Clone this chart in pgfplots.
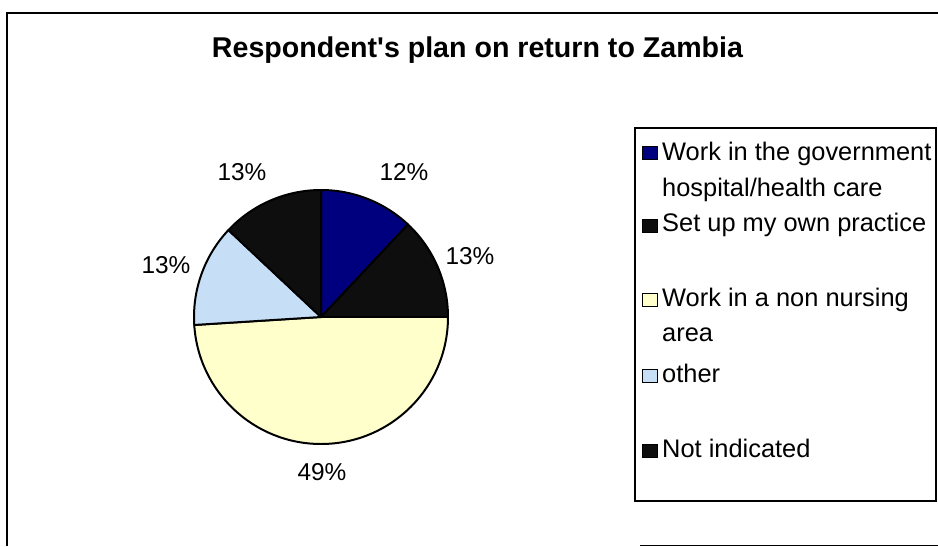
\documentclass[border=0pt]{standalone}
\usepackage{pgfplots}
\pgfplotsset{compat=1.18}
\usepackage{pgfplotstable}
\usepackage{fontspec}
\setmainfont{Liberation Sans}
\definecolor{govblue}{HTML}{00007E}
\definecolor{sliceblack}{HTML}{0E0E0E}
\definecolor{nonnurse}{HTML}{FFFFCC}
\definecolor{otherblue}{HTML}{C6DEF6}
\newcommand{\lblfont}{\fontsize{24.5}{29}\selectfont}
\newcommand{\legfont}{\fontsize{25.5}{30}\selectfont}

% share of respondents (percent), clockwise from 12 o'clock
\pgfplotstableread{
pct col
12 govblue
13 sliceblack
49 nonnurse
13 otherblue
13 sliceblack
}\piedata

\begin{document}
\begin{tikzpicture}
\begin{axis}[
  scale only axis, width=938bp, height=547bp,
  xmin=0, xmax=938, ymin=0, ymax=547, y dir=reverse,
  hide axis, clip=false,
]
% pie
\def\angstart{90}
\pgfplotsforeachungrouped \i in {0,...,4}{%
  \pgfplotstablegetelem{\i}{pct}\of\piedata \let\slicepct\pgfplotsretval
  \pgfplotstablegetelem{\i}{col}\of\piedata \let\slicecol\pgfplotsretval
  \pgfmathsetmacro\angend{\angstart-3.6*\slicepct}%
  \edef\tmp{\noexpand\filldraw[fill=\slicecol,draw=black,line width=2pt,line join=round]
    (axis cs:321,317) -- ++(\angstart:127bp) arc[start angle=\angstart,end angle=\angend,radius=127bp] -- cycle;}%
  \tmp
  \global\let\angstart\angend
}
% percentage labels
\node[font=\lblfont] at (axis cs:404,172) {12\%};
\node[font=\lblfont] at (axis cs:470,256) {13\%};
\node[font=\lblfont] at (axis cs:322,472) {49\%};
\node[font=\lblfont] at (axis cs:166,265) {13\%};
\node[font=\lblfont] at (axis cs:242,172) {13\%};
% title
\node[anchor=base, font=\fontsize{28.7}{33}\selectfont\bfseries] at (axis cs:477.5,58) {Respondent\textquotesingle s plan on return to Zambia};
% frames
\draw[line width=1.5pt] (axis cs:7,546) -- (axis cs:7,13) -- (axis cs:938,13);
\draw[line width=1.5pt] (axis cs:640,545.5) -- (axis cs:938,545.5);
\draw[line width=1.5pt] (axis cs:635,128) rectangle (axis cs:936,501);
% legend swatches
\addplot[only marks, mark=square*, mark size=6.5bp, mark options={xscale=1.15, fill=govblue, draw=black, line width=1.2pt}] coordinates {(650,153)};
\addplot[only marks, mark=square*, mark size=6.5bp, mark options={xscale=1.15, fill=sliceblack, draw=black, line width=1.2pt}] coordinates {(650,226)};
\addplot[only marks, mark=square*, mark size=6.5bp, mark options={xscale=1.15, fill=nonnurse, draw=black, line width=1.2pt}] coordinates {(650,300)};
\addplot[only marks, mark=square*, mark size=6.5bp, mark options={xscale=1.15, fill=otherblue, draw=black, line width=1.2pt}] coordinates {(650,376)};
\addplot[only marks, mark=square*, mark size=6.5bp, mark options={xscale=1.15, fill=sliceblack, draw=black, line width=1.2pt}] coordinates {(650,451)};
% legend text
\node[anchor=base west, inner sep=0pt, font=\legfont] at (axis cs:662,160) {Work in the government};
\node[anchor=base west, inner sep=0pt, font=\legfont] at (axis cs:662,196) {hospital/health care};
\node[anchor=base west, inner sep=0pt, font=\legfont] at (axis cs:662,231) {Set up my own practice};
\node[anchor=base west, inner sep=0pt, font=\legfont] at (axis cs:662,306) {Work in a non nursing};
\node[anchor=base west, inner sep=0pt, font=\legfont] at (axis cs:662,341) {area};
\node[anchor=base west, inner sep=0pt, font=\legfont] at (axis cs:662,382) {other};
\node[anchor=base west, inner sep=0pt, font=\legfont] at (axis cs:662,457) {Not indicated};
\end{axis}
\pgfresetboundingbox
\path (0,0) rectangle (938bp,547bp);
\end{tikzpicture}
\end{document}
